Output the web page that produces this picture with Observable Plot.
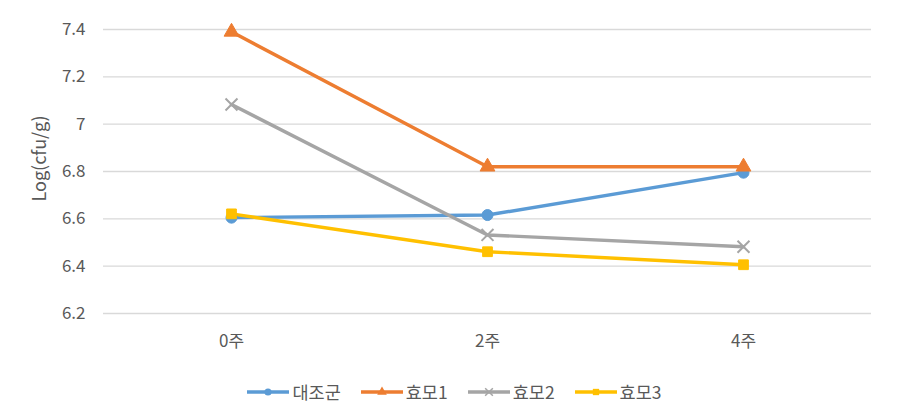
<!DOCTYPE html>
<html>
<head>
<meta charset="utf-8">
<script src="https://cdn.jsdelivr.net/npm/d3@7"></script>
<script src="https://cdn.jsdelivr.net/npm/@observablehq/plot@0.6"></script>
<style>
  html, body { margin: 0; padding: 0; background: #fff; }
  body { width: 908px; height: 415px; overflow: hidden; font-family: "Noto Sans CJK KR", "Noto Sans", sans-serif; }
  #chart svg { display: block; }
  #legend { display: flex; justify-content: center; align-items: center; gap: 19px; margin-top: 36px; font-size: 17.5px; color: #595959; line-height: 22px; }
  .item { display: flex; align-items: center; gap: 2px; }
</style>
</head>
<body>
<div id="chart"></div>
<div id="legend"></div>
<script>
const weeks = ["0주", "2주", "4주"];
const seriesNames = ["대조군", "효모1", "효모2", "효모3"];
const control = [6.605, 6.616, 6.795];
const yeast1 = [7.39, 6.82, 6.82];
const yeast2 = [7.083, 6.532, 6.482];
const yeast3 = [6.621, 6.461, 6.406];
const yTicks = [6.2, 6.4, 6.6, 6.8, 7, 7.2, 7.4];
const yTitle = "Log(cfu/g)";
const colors = ["#5B9BD5", "#ED7D31", "#A5A5A5", "#FFC000"];
const symbols = ["circle", "triangle", "times", "square"];

const allValues = [control, yeast1, yeast2, yeast3];
const data = [];
seriesNames.forEach((s, i) => weeks.forEach((w, j) => data.push({series: s, week: w, value: allValues[i][j]})));

const font = '"Noto Sans CJK KR", "Noto Sans", sans-serif';
const chart = Plot.plot({
  width: 908, height: 345,
  marginLeft: 103, marginRight: 37, marginTop: 29, marginBottom: 32,
  style: {fontFamily: font, fontSize: "17px", color: "#595959", background: "#fff", overflow: "visible"},
  x: {type: "point", domain: weeks, padding: 0.5},
  y: {domain: [6.2, 7.4]},
  color: {domain: seriesNames, range: colors},
  symbol: {domain: seriesNames, range: symbols},
  marks: [
    Plot.gridY(yTicks, {stroke: "#d9d9d9", strokeOpacity: 1, strokeWidth: 1.3}),
    Plot.axisY(yTicks, {tickSize: 0, tickPadding: 18, tickFormat: d => String(d), label: null, fill: "#595959"}),
    Plot.text([yTitle], {frameAnchor: "left", textAnchor: "middle", rotate: -90, dx: -63, dy: -13, fill: "#595959", fontSize: 18, letterSpacing: "1px"}),
    Plot.axisX(weeks, {tickSize: 0, tickPadding: 21, label: null, fill: "#595959"}),
    Plot.line(data, {x: "week", y: "value", stroke: "series", strokeWidth: 3.4}),
    Plot.dot(data.filter(d => d.series !== "효모2"), {x: "week", y: "value", fill: "series", symbol: "series", r: 5.5, stroke: "series", strokeWidth: 1}),
    Plot.dot(data.filter(d => d.series === "효모2"), {x: "week", y: "value", stroke: "series", symbol: "series", r: 5.5, strokeWidth: 2})
  ]
});
document.getElementById("chart").appendChild(chart);

const legend = d3.select("#legend");
seriesNames.forEach((s, i) => {
  const item = legend.append("div").attr("class", "item");
  const svg = item.append("svg").attr("width", 44).attr("height", 14);
  svg.append("line").attr("x1", 1).attr("x2", 43).attr("y1", 7).attr("y2", 7).attr("stroke", colors[i]).attr("stroke-width", 3.4);
  const sym = d3.symbol().type(symbols[i] === "circle" ? d3.symbolCircle : symbols[i] === "triangle" ? d3.symbolTriangle : symbols[i] === "times" ? d3.symbolTimes : d3.symbolSquare).size(40);
  svg.append("path").attr("d", sym()).attr("transform", "translate(22,7)")
    .attr("fill", symbols[i] === "times" ? "none" : colors[i]).attr("stroke", colors[i]).attr("stroke-width", symbols[i] === "times" ? 1.5 : 0);
  item.append("span").text(s);
});
</script>
</body>
</html>
